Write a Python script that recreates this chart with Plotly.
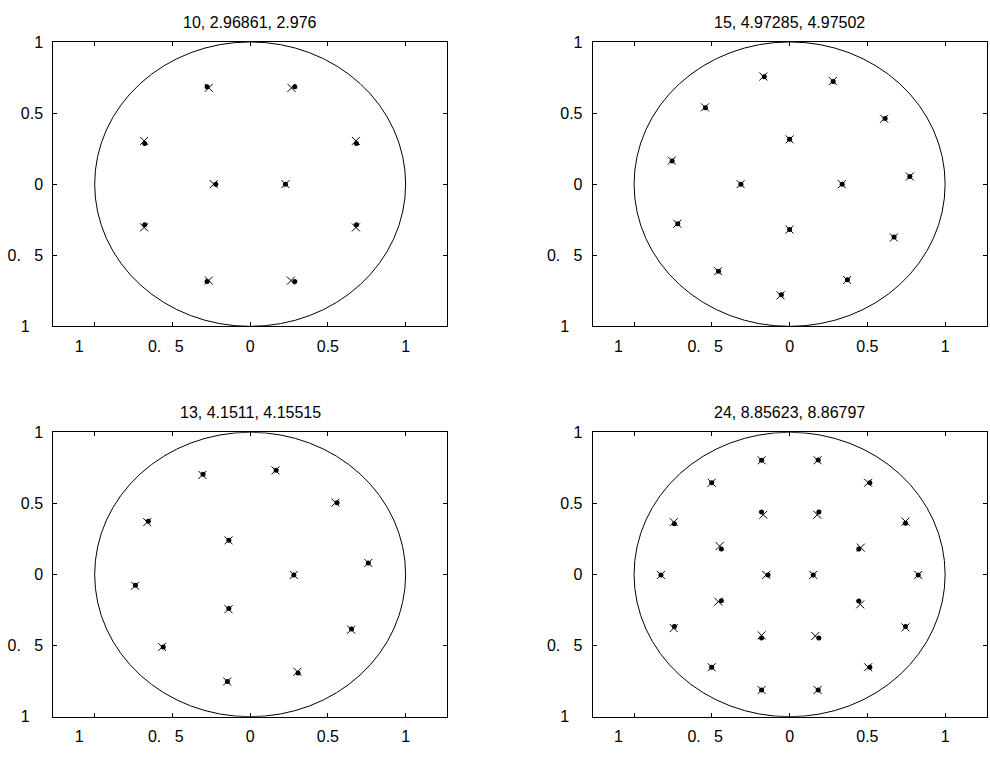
import plotly.graph_objects as go
import numpy as np

# ---------------- data ----------------
titles = ["10, 2.96861, 2.976", "15, 4.97285, 4.97502",
          "13, 4.1511, 4.15515", "24, 8.85623, 8.86797"]

tick_vals = [-1, -0.5, 0, 0.5, 1]
x_tick_text = ["1" + "\u00a0" * 7, "0.\u00a0\u00a0\u00a05" + "\u00a0" * 3, "0", "0.5", "1"]
y_tick_text = ["1" + "\u00a0" * 3, "0.\u00a0\u00a0\u00a05", "0", "0.5", "1"]

RADIUS = 1.0

# subplot 1 (10 points)
s1_cross_x = [-0.266, 0.266, -0.682, 0.680, -0.234, 0.227, -0.682, 0.680, -0.266, 0.262]
s1_cross_y = [0.677, 0.677, 0.304, 0.304, 0.0, 0.0, -0.304, -0.304, -0.678, -0.678]
s1_dot_x = [-0.277, 0.287, -0.678, 0.684, -0.221, 0.227, -0.678, 0.684, -0.277, 0.287]
s1_dot_y = [0.684, 0.684, 0.286, 0.286, 0.0, 0.0, -0.286, -0.286, -0.685, -0.685]

# subplot 2 (15 points)
s2_cross_x = [-0.169, 0.278, -0.544, 0.608, 0.0, -0.758, -0.315, 0.336, 0.773,
              -0.722, 0.0, 0.670, -0.460, 0.370, -0.058]
s2_cross_y = [0.757, 0.725, 0.540, 0.460, 0.315, 0.166, 0.0, 0.0, 0.054,
              -0.278, -0.319, -0.375, -0.612, -0.674, -0.782]
s2_dot_x = [-0.163, 0.280, -0.541, 0.614, 0.0, -0.755, -0.313, 0.338, 0.773,
            -0.719, 0.0, 0.672, -0.457, 0.372, -0.053]
s2_dot_y = [0.755, 0.722, 0.537, 0.462, 0.315, 0.163, 0.0, 0.0, 0.054,
            -0.278, -0.319, -0.372, -0.612, -0.672, -0.778]

# subplot 3 (13 points)
s3_cross_x = [-0.307, 0.163, 0.549, -0.662, -0.139, 0.760, 0.281, -0.740, -0.139,
              0.650, -0.566, 0.304, -0.148]
s3_cross_y = [0.700, 0.732, 0.505, 0.368, 0.240, 0.081, -0.003, -0.079, -0.244,
              -0.388, -0.510, -0.684, -0.752]
s3_dot_x = [-0.303, 0.167, 0.559, -0.655, -0.137, 0.760, 0.281, -0.738, -0.137,
            0.652, -0.559, 0.308, -0.146]
s3_dot_y = [0.705, 0.732, 0.505, 0.375, 0.240, 0.081, -0.003, -0.075, -0.240,
            -0.383, -0.510, -0.693, -0.752]

# subplot 4 (24 points)
s4_cross_x = [-0.180, 0.180, -0.501, 0.505, -0.169, 0.178, -0.745, 0.745, -0.450, 0.458,
              -0.827, -0.150, 0.152, 0.827, -0.458, 0.454, -0.745, 0.745, -0.180, 0.165,
              -0.501, 0.505, -0.180, 0.180]
s4_cross_y = [0.803, 0.803, 0.645, 0.645, 0.420, 0.420, 0.368, 0.372, 0.200, 0.189,
              -0.003, -0.003, -0.003, -0.003, -0.191, -0.210, -0.377, -0.372, -0.428, -0.433,
              -0.652, -0.652, -0.812, -0.812]
s4_dot_x = [-0.180, 0.184, -0.501, 0.516, -0.180, 0.188, -0.741, 0.745, -0.439, 0.445,
            -0.827, -0.139, 0.152, 0.827, -0.439, 0.445, -0.741, 0.745, -0.180, 0.188,
            -0.501, 0.516, -0.180, 0.184]
s4_dot_y = [0.803, 0.805, 0.645, 0.645, 0.439, 0.439, 0.357, 0.361, 0.180, 0.180,
            -0.003, -0.003, -0.003, -0.003, -0.184, -0.187, -0.366, -0.366, -0.446, -0.446,
            -0.652, -0.652, -0.812, -0.812]

panels = [
    (s1_cross_x, s1_cross_y, s1_dot_x, s1_dot_y),
    (s2_cross_x, s2_cross_y, s2_dot_x, s2_dot_y),
    (s3_cross_x, s3_cross_y, s3_dot_x, s3_dot_y),
    (s4_cross_x, s4_cross_y, s4_dot_x, s4_dot_y),
]

# ---------------- layout ----------------
W, H = 990, 757
FONT = "Liberation Sans, Arial, Helvetica, sans-serif"
FS = 16

col_px = [(53.3, 447.0), (592.7, 986.5)]
row_px = [(34.7, 325.7), (434.0, 725.0)]

fig = go.Figure()
layout = dict(
    width=W, height=H, autosize=False,
    margin=dict(l=0, r=0, t=0, b=0),
    paper_bgcolor="white", plot_bgcolor="white",
    showlegend=False,
    font=dict(family=FONT, size=FS, color="black"),
)
annotations = []
shapes = []

for i, (cx, cy, dx, dy) in enumerate(panels):
    r, c = divmod(i, 2)
    n = i + 1
    xa = "xaxis" if n == 1 else f"xaxis{n}"
    ya = "yaxis" if n == 1 else f"yaxis{n}"
    xref = "x" if n == 1 else f"x{n}"
    yref = "y" if n == 1 else f"y{n}"
    x0p, x1p = col_px[c]
    y0p, y1p = row_px[r]
    xdom = [x0p / W, x1p / W]
    ydom = [1 - y1p / H, 1 - y0p / H]
    common = dict(
        showgrid=False, zeroline=False, showline=True, linecolor="black",
        linewidth=1, mirror="ticks", ticks="inside", ticklen=4, tickwidth=1,
        tickcolor="black", tickmode="array", tickvals=tick_vals,
        tickfont=dict(family=FONT, size=FS, color="black"),
        fixedrange=True,
    )
    layout[xa] = dict(common, domain=xdom, range=[-1.266, 1.266],
                      ticktext=x_tick_text, anchor=yref, ticklabelstandoff=5)
    layout[ya] = dict(common, domain=ydom, range=[-1, 1],
                      ticktext=y_tick_text, anchor=xref, ticklabelstandoff=6)

    shapes.append(dict(type="circle", xref=xref, yref=yref,
                       x0=-RADIUS, x1=RADIUS, y0=-RADIUS, y1=RADIUS,
                       line=dict(color="black", width=1), layer="below"))

    fig.add_trace(go.Scatter(x=dx, y=dy, mode="markers", xaxis=xref, yaxis=yref,
                             marker=dict(symbol="circle", size=5, color="black",
                                         line=dict(width=0)),
                             hoverinfo="skip"))
    fig.add_trace(go.Scatter(x=cx, y=cy, mode="markers", xaxis=xref, yaxis=yref,
                             marker=dict(symbol="x-thin", size=8,
                                         line=dict(width=1, color="black"),
                                         color="black"),
                             hoverinfo="skip"))

    annotations.append(dict(text=titles[i], xref="paper", yref="paper",
                            x=(xdom[0] + xdom[1]) / 2, y=1 - (y0p - 20) / H,
                            xanchor="center", yanchor="middle", showarrow=False,
                            font=dict(family=FONT, size=FS, color="black")))

layout["annotations"] = annotations
layout["shapes"] = shapes
fig.update_layout(**layout)
fig.write_html("out.html")
